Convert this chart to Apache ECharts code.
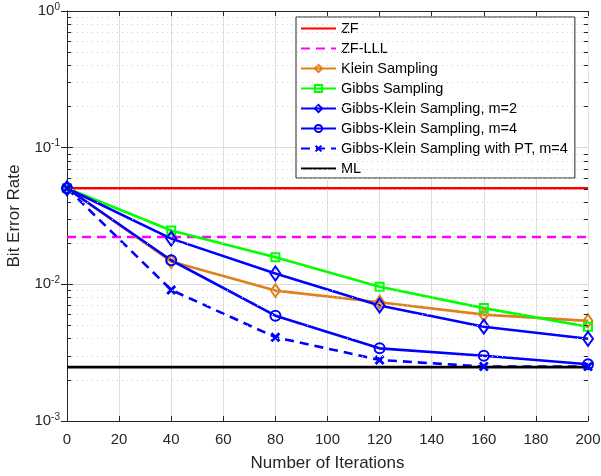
<!DOCTYPE html>
<html>
<head>
<meta charset="utf-8">
<script src="https://cdn.jsdelivr.net/npm/echarts@6/dist/echarts.min.js"></script>
<style>
  html, body { margin: 0; padding: 0; background: #fff; }
  #chart { width: 601px; height: 476px; }
</style>
</head>
<body>
<div id="chart"></div>
<script>
// data
const iterations = [0, 40, 80, 120, 160, 200];
const zf       = [0.0505, 0.0505, 0.0505, 0.0505, 0.0505, 0.0505];
const zfLll    = [0.0222, 0.0222, 0.0222, 0.0222, 0.0222, 0.0222];
const klein    = [0.0505, 0.0147, 0.0090, 0.0074, 0.0060, 0.0054];
const gibbs    = [0.0505, 0.0248, 0.0158, 0.0096, 0.0067, 0.0049];
const gk2      = [0.0505, 0.0216, 0.0120, 0.0070, 0.0049, 0.0040];
const gk4      = [0.0505, 0.0150, 0.0059, 0.0034, 0.0030, 0.0026];
const gkPt4    = [0.0505, 0.0091, 0.0041, 0.0028, 0.0025, 0.0025];
const ml       = [0.00248, 0.00248, 0.00248, 0.00248, 0.00248, 0.00248];
const minorY   = [0.002, 0.003, 0.004, 0.005, 0.006, 0.007, 0.008, 0.009,
                  0.02, 0.03, 0.04, 0.05, 0.06, 0.07, 0.08, 0.09,
                  0.2, 0.3, 0.4, 0.5, 0.6, 0.7, 0.8, 0.9];

const font = 'Liberation Sans';
const axisColor = '#262626';
const crossPath = 'path://M0,2 L2,0 L5,3 L8,0 L10,2 L7,5 L10,8 L8,10 L5,7 L2,10 L0,8 L3,5 Z';

const pairs = (ys) => iterations.map((x, i) => [x, ys[i]]);

const mkLine = (name, ys, color, opts) => Object.assign({
    name: name,
    type: 'line',
    data: pairs(ys),
    symbol: 'none',
    lineStyle: { color: color, width: 2.6 },
    itemStyle: { color: 'transparent', borderColor: color, borderWidth: 2 },
    emphasis: { disabled: true },
    z: 3
}, opts || {});

// plain lines: no marker, also none in the legend
const noMarker = { color: 'transparent', borderColor: 'transparent', borderWidth: 0 };

// minor grid (dotted) plus short inward minor ticks on left and right
const minorMarks = [];
minorY.forEach(v => {
    minorMarks.push([{ coord: [0, v], lineStyle: { type: [1, 4], color: '#cfcfcf', width: 1 } }, { coord: [200, v] }]);
});
minorY.forEach(v => {
    minorMarks.push([{ coord: [0, v], lineStyle: { type: 'solid', color: axisColor, width: 1 } }, { coord: [1.6, v] }]);
    minorMarks.push([{ coord: [198.4, v], lineStyle: { type: 'solid', color: axisColor, width: 1 } }, { coord: [200, v] }]);
});

const yLabel = (v) => {
    const e = Math.round(Math.log10(v));
    return '{b|10}{s|' + e + '}';
};

const option = {
    animation: false,
    backgroundColor: '#fff',
    textStyle: { fontFamily: font },
    grid: { left: 67, right: 13, top: 11, bottom: 55, show: false, containLabel: false, outerBoundsMode: 'none' },
    legend: {
        orient: 'vertical',
        left: 296,
        top: 17,
        padding: [4, 7, 2, 4],
        itemWidth: 35,
        itemHeight: 9,
        itemGap: 5,
        backgroundColor: '#fff',
        borderColor: axisColor,
        borderWidth: 1,
        textStyle: { fontFamily: font, fontSize: 14.5, color: '#000' },
        data: ['ZF', 'ZF-LLL', 'Klein Sampling', 'Gibbs Sampling',
               'Gibbs-Klein Sampling, m=2', 'Gibbs-Klein Sampling, m=4',
               'Gibbs-Klein Sampling with PT, m=4', 'ML']
    },
    xAxis: [{
        type: 'value',
        min: 0, max: 200, interval: 20,
        name: 'Number of Iterations',
        nameLocation: 'middle',
        nameGap: 34,
        nameTextStyle: { fontFamily: font, fontSize: 17, color: axisColor },
        axisLine: { lineStyle: { color: axisColor, width: 1 } },
        axisTick: { inside: true, length: 5, lineStyle: { color: axisColor } },
        axisLabel: { fontFamily: font, fontSize: 15, color: axisColor, margin: 11 },
        splitLine: { show: true, lineStyle: { color: '#dedede', width: 1 } }
    }, {
        type: 'value',
        position: 'top',
        min: 0, max: 200, interval: 20,
        axisLine: { show: true, lineStyle: { color: axisColor, width: 1 } },
        axisTick: { show: true, inside: true, length: 5, lineStyle: { color: axisColor } },
        axisLabel: { show: false },
        splitLine: { show: false }
    }],
    yAxis: [{
        type: 'log',
        logBase: 10,
        min: 0.001, max: 1,
        name: 'Bit Error Rate',
        nameLocation: 'middle',
        nameGap: 44,
        nameTextStyle: { fontFamily: font, fontSize: 17, color: axisColor },
        axisLine: { show: true, lineStyle: { color: axisColor, width: 1 } },
        axisTick: { show: true, inside: true, length: 6, lineStyle: { color: axisColor } },
        axisLabel: {
            margin: 7,
            formatter: yLabel,
            rich: {
                b: { fontFamily: font, fontSize: 15, color: axisColor },
                s: { fontFamily: font, fontSize: 10, color: axisColor, padding: [0, 0, 8, 0] }
            }
        },
        splitLine: { show: true, lineStyle: { color: '#dedede', width: 1 } }
    }, {
        type: 'log',
        logBase: 10,
        min: 0.001, max: 1,
        position: 'right',
        axisLine: { show: true, lineStyle: { color: axisColor, width: 1 } },
        axisTick: { show: true, inside: true, length: 6, lineStyle: { color: axisColor } },
        axisLabel: { show: false },
        splitLine: { show: false }
    }],
    series: [
        {
            type: 'line',
            data: [],
            silent: true,
            z: 1,
            markLine: {
                silent: true,
                symbol: ['none', 'none'],
                label: { show: false },
                emphasis: { disabled: true },
                animation: false,
                data: minorMarks
            }
        },
        mkLine('ZF', zf, '#ff0000', { itemStyle: noMarker }),
        mkLine('ZF-LLL', zfLll, '#ff00ff', { itemStyle: noMarker, lineStyle: { color: '#ff00ff', width: 2.6, type: [9, 6] } }),
        mkLine('Klein Sampling', klein, '#e0801a', { symbol: 'diamond', symbolSize: [9, 13] }),
        mkLine('Gibbs Sampling', gibbs, '#00ff00', { symbol: 'rect', symbolSize: 8 }),
        mkLine('Gibbs-Klein Sampling, m=2', gk2, '#0000ff', { symbol: 'diamond', symbolSize: [10, 14] }),
        mkLine('Gibbs-Klein Sampling, m=4', gk4, '#0000ff', { symbol: 'circle', symbolSize: 10 }),
        mkLine('Gibbs-Klein Sampling with PT, m=4', gkPt4, '#0000ff', {
            symbol: crossPath,
            symbolSize: 10,
            lineStyle: { color: '#0000ff', width: 2.6, type: [9, 6] },
            itemStyle: { color: '#0000ff', borderWidth: 0 }
        }),
        mkLine('ML', ml, '#000000', { itemStyle: noMarker, lineStyle: { color: '#000000', width: 2.8 } })
    ]
};

const myChart = echarts.init(document.getElementById('chart'), null, { renderer: 'canvas' });
myChart.setOption(option);
</script>
</body>
</html>
